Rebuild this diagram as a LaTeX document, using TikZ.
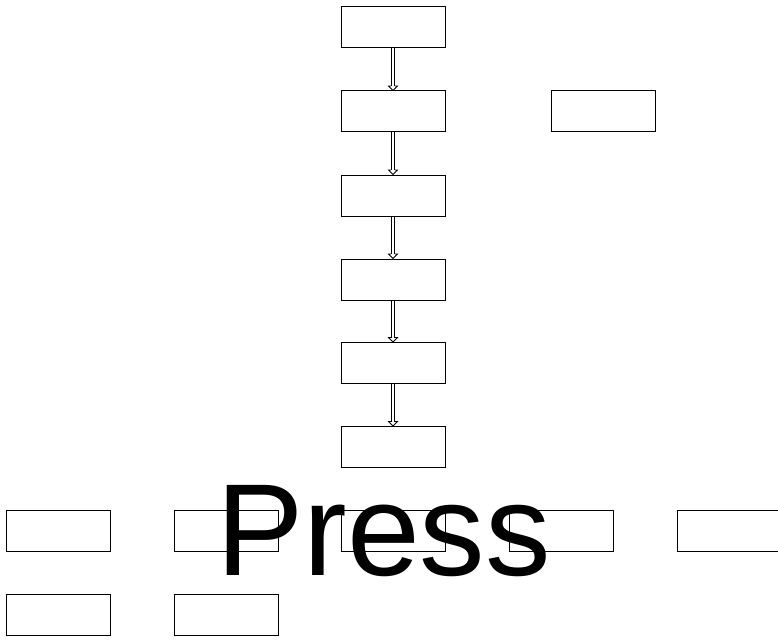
\documentclass[tikz,border=0pt]{standalone}
\usepackage{fontspec}
\setmainfont{Liberation Sans}
\tikzset{
  box/.style={draw=black, line width=1pt, minimum width=104pt, minimum height=41pt, inner sep=0pt, fill=none},
  shaft/.style={draw=black, line width=0.8pt},
  headline/.style={draw=black, line width=0.8pt, line join=miter}
}
\newcommand{\dblarrow}[2]{%
  \draw[shaft] ([xshift=-1.8pt]#1.south) -- ([xshift=-1.8pt,yshift=4.5pt]#2.north);
  \draw[shaft] ([xshift=1.8pt]#1.south) -- ([xshift=1.8pt,yshift=4.5pt]#2.north);
  \draw[headline] ([xshift=-1.8pt,yshift=4.5pt]#2.north) -- ([xshift=-4.5pt,yshift=4.5pt]#2.north) -- (#2.north) -- ([xshift=4.5pt,yshift=4.5pt]#2.north) -- ([xshift=1.8pt,yshift=4.5pt]#2.north);
}
\begin{document}
\begin{tikzpicture}[x=1pt,y=-1pt]
\useasboundingbox (0,0) rectangle (778,639);
\node[box] (c1) at (393,27.5) {};
\node[box] (c2) at (393,111.5) {};
\node[box] (c3) at (393,195.5) {};
\node[box] (c4) at (393,279.5) {};
\node[box] (c5) at (393,363) {};
\node[box] (c6) at (393,447) {};
\node[box] (r1) at (603,111.5) {};
\node[box] (b1) at (58,530.5) {};
\node[box] (b2) at (226,530.5) {};
\node[box] (b3) at (393,530.5) {};
\node[box] (b4) at (561,530.5) {};
\node[box] (b5) at (729,530.5) {};
\node[box] (d1) at (58,614.5) {};
\node[box] (d2) at (226,614.5) {};
\dblarrow{c1}{c2}
\dblarrow{c2}{c3}
\dblarrow{c3}{c4}
\dblarrow{c4}{c5}
\dblarrow{c5}{c6}
\node[anchor=base, inner sep=0pt, font=\fontsize{131}{131}\selectfont] (press) at (383.5,575) {Press};
\end{tikzpicture}
\end{document}
